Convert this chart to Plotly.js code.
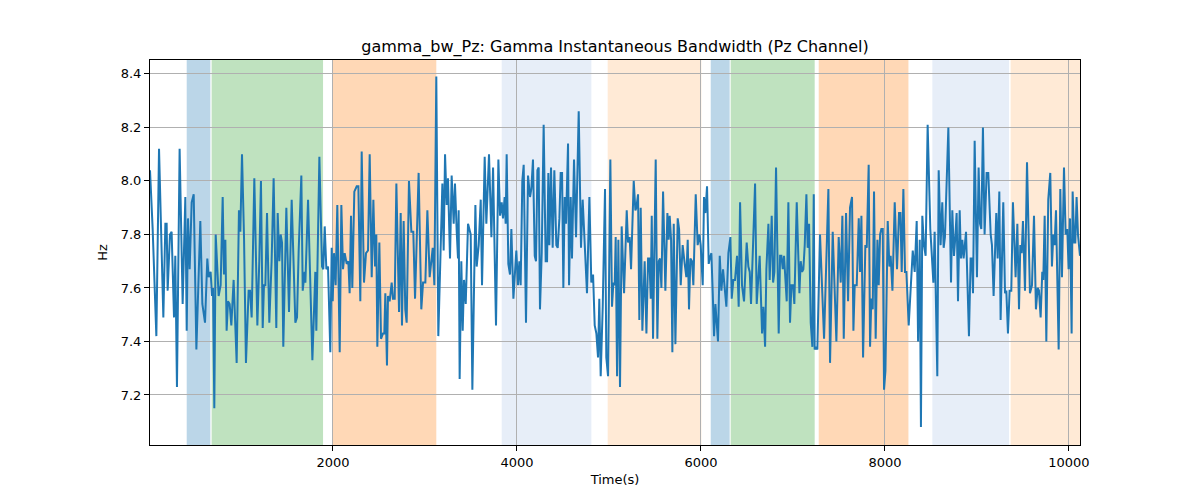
<!DOCTYPE html>
<html>
<head>
<meta charset="utf-8">
<script src="https://cdn.plot.ly/plotly-3.0.1.min.js"></script>
<style>
  html, body { margin: 0; padding: 0; background: #fff; }
  #plot { width: 1200px; height: 500px; }
</style>
</head>
<body>
<div id="plot"></div>
<script>
// time in seconds
var times = [
  11, 40, 80, 109, 156, 178, 192, 203, 228, 246, 272, 286, 304, 333, 366, 395, 410, 424, 442, 464,
  486, 515, 558, 580, 609, 634, 649, 670, 685, 696, 710, 725, 757, 779, 801, 815, 830, 844, 859, 877,
  895, 920, 953, 978, 993, 1011, 1033, 1054, 1083, 1098, 1116, 1145, 1178, 1199, 1217, 1236, 1250, 1265, 1283, 1308,
  1333, 1355, 1384, 1399, 1417, 1431, 1446, 1460, 1493, 1522, 1551, 1569, 1591, 1609, 1627,
  1656, 1671, 1692, 1700, 1729, 1750, 1776, 1808, 1819, 1852, 1881, 1895, 1910, 1928, 1946, 1971, 1986, 1997, 2011, 2029,
  2047, 2073, 2091, 2109, 2127, 2149, 2167, 2181, 2196, 2210, 2232, 2258, 2276, 2297, 2312, 2337, 2359, 2381, 2399, 2421,
  2439, 2457, 2471, 2482, 2504, 2522, 2544, 2558, 2569, 2587, 2598, 2616, 2638, 2652, 2671, 2689, 2718, 2736, 2750, 2768,
  2786, 2801, 2826, 2852, 2873, 2892, 2910, 2931, 2960, 2979, 3004, 3026, 3051, 3069, 3084, 3102, 3123, 3145, 3167, 3189,
  3203, 3218, 3236, 3250, 3272, 3290, 3312, 3326,
  3345, 3359, 3366, 3377, 3395, 3410, 3424, 3443, 3468, 3497, 3515, 3548, 3562, 3584, 3606, 3620, 3649, 3667, 3696, 3722,
  3740, 3772, 3798, 3816, 3834, 3848, 3866, 3877, 3888, 3906, 3924, 3939, 3961, 3993, 4011, 4026, 4040, 4058, 4073, 4098,
  4120, 4142, 4156, 4174, 4193, 4207, 4222, 4236, 4250, 4269, 4290, 4312, 4327, 4341, 4352, 4370, 4388, 4406, 4428, 4443,
  4461, 4475, 4490, 4504, 4519, 4533, 4555, 4566, 4584, 4598, 4620, 4642, 4671, 4696, 4714, 4736, 4761, 4787, 4808, 4827,
  4845, 4863, 4881, 4895, 4910, 4932, 4957, 4971, 4990,
  5015, 5033, 5048, 5062, 5073, 5088, 5102, 5120, 5138, 5164, 5193, 5207, 5225, 5240, 5269, 5287, 5298, 5316, 5330, 5345,
  5363, 5388, 5407, 5425, 5439, 5454, 5465, 5479, 5508, 5526, 5541, 5555, 5570, 5588, 5613, 5635, 5649, 5660, 5675, 5689,
  5704, 5722, 5747, 5762, 5780, 5801, 5823, 5841, 5856, 5870, 5885, 5903, 5917, 5943, 5964, 5983, 5997, 6019, 6033, 6048,
  6066, 6084, 6095, 6113, 6128, 6142, 6157, 6171, 6185, 6204, 6222, 6240, 6258, 6276, 6298, 6320, 6334, 6352, 6370, 6392,
  6410, 6425, 6446, 6468, 6497, 6515, 6530, 6544, 6566, 6588, 6606, 6624, 6638, 6664, 6678,
  6697, 6711, 6733, 6747, 6769, 6784, 6798, 6816, 6845, 6860, 6874, 6889, 6903, 6918, 6932, 6950, 6968, 6983, 7001, 7015,
  7041, 7070, 7084, 7099, 7113, 7128, 7146, 7160, 7175, 7193, 7211, 7226, 7236, 7251, 7265, 7294, 7316, 7338, 7385, 7403,
  7432, 7454, 7472, 7497, 7519, 7537, 7552, 7577, 7599, 7620, 7642, 7657, 7671, 7693, 7715, 7729, 7744, 7762, 7787, 7802,
  7823, 7838, 7852, 7867, 7881, 7899, 7918, 7932, 7947, 7961, 7976, 7990, 8005, 8030, 8048, 8062, 8081, 8106, 8131, 8153,
  8168, 8182, 8200, 8218, 8233, 8258, 8280, 8302, 8323, 8345, 8360, 8378,
  8391, 8406, 8424, 8442, 8464, 8493, 8526, 8540, 8569, 8584, 8605, 8623, 8638, 8652, 8689, 8718, 8732, 8750, 8765, 8779,
  8794, 8812, 8826, 8841, 8855, 8881, 8913, 8931, 8946, 8957, 8975, 9000, 9018, 9033, 9047, 9065, 9083, 9105, 9123, 9149,
  9163, 9181, 9210, 9225, 9243, 9257, 9286, 9305, 9319, 9337, 9355, 9373, 9391, 9420, 9439, 9457, 9471, 9486, 9500, 9522,
  9544, 9576, 9598, 9620, 9641, 9660, 9674, 9692, 9710, 9721, 9736, 9754, 9775, 9797, 9815, 9830, 9844, 9859, 9888, 9906,
  9924, 9946, 9964, 9982, 9996, 10011, 10029, 10040, 10058, 10069, 10083, 10098, 10120
];

var bandwidth = [
  8.04, 7.82, 7.42, 8.12, 7.49, 7.84, 7.84, 7.59, 7.80, 7.81, 7.49, 7.72, 7.23, 8.12, 7.54, 7.94, 7.44, 7.86, 7.67, 7.92,
  7.95, 7.37, 7.85, 7.54, 7.47, 7.71, 7.64, 7.66, 7.57, 7.60, 7.15, 7.80, 7.57, 7.61, 7.94, 7.65, 7.78, 7.44, 7.55, 7.54,
  7.46, 7.63, 7.32, 7.89, 7.81, 8.10, 7.79, 7.32, 7.59, 7.59, 7.49, 8.01, 7.46, 7.70, 8.00, 7.45, 7.61, 7.61, 7.88, 7.47,
  7.70, 8.01, 7.45, 7.88, 7.70, 7.80, 7.77, 7.38, 7.90, 7.51, 7.93, 7.74, 7.47, 7.49, 7.74,
  8.02, 7.59, 7.66, 7.62, 7.93, 7.67, 7.33, 7.66, 7.44, 8.09, 7.68, 7.67, 7.83, 7.67, 7.68, 7.36, 7.75, 7.55, 7.73, 7.61,
  7.91, 7.36, 7.91, 7.67, 7.73, 7.69, 7.70, 7.58, 7.87, 7.60, 7.96, 7.98, 7.98, 7.55, 8.11, 7.62, 7.73, 7.74, 8.10, 7.64,
  7.93, 7.68, 7.80, 7.38, 7.77, 7.41, 7.43, 7.43, 7.58, 7.31, 7.57, 7.55, 7.62, 7.56, 7.56, 7.99, 7.51, 7.88, 7.46, 7.85,
  7.52, 7.47, 8.00, 7.81, 7.81, 7.56, 7.80, 8.03, 7.52, 7.62, 7.62, 7.89, 7.64, 7.69, 7.75, 7.61, 8.39, 7.42, 7.73, 7.99,
  7.74, 8.10, 7.91, 8.01, 7.71, 8.02, 7.84, 7.99,
  7.81, 7.71, 7.89, 7.26, 7.70, 7.44, 7.63, 7.54, 7.84, 7.80, 7.22, 7.91, 7.68, 7.76, 7.93, 7.61, 8.09, 7.84, 8.10, 7.79,
  8.05, 7.46, 8.08, 7.87, 7.92, 7.86, 7.94, 7.84, 8.10, 7.69, 7.65, 7.82, 7.56, 7.74, 7.61, 7.70, 7.61, 8.00, 8.06, 7.47,
  8.02, 7.94, 7.97, 8.08, 7.72, 7.70, 8.04, 8.05, 7.52, 7.73, 8.21, 7.70, 7.70, 8.03, 7.76, 8.05, 7.75, 8.04, 7.76, 7.75,
  7.86, 8.03, 8.03, 7.60, 7.94, 7.84, 8.14, 7.61, 7.94, 7.71, 8.08, 7.79, 8.26, 7.75, 7.93, 7.78, 7.58, 7.94, 7.62, 7.65,
  7.46, 7.43, 7.34, 7.56, 7.27, 7.53, 7.97, 7.34, 7.27,
  8.08, 7.53, 7.62, 7.61, 7.79, 7.27, 7.78, 7.23, 7.83, 7.58, 7.89, 7.77, 7.79, 7.67, 8.00, 7.89, 7.90, 7.95, 7.48, 7.90,
  7.44, 7.70, 7.43, 7.71, 7.71, 7.56, 7.87, 7.41, 8.08, 7.41, 7.70, 7.71, 7.60, 7.96, 7.59, 7.88, 7.78, 7.87, 7.78, 7.36,
  7.84, 7.39, 7.86, 7.82, 7.61, 7.76, 7.69, 7.64, 7.78, 7.52, 7.71, 7.70, 7.61, 7.95, 7.76, 7.80, 7.76, 7.61, 7.94, 7.88,
  7.98, 7.69, 7.71, 7.73, 7.58, 7.42, 7.54, 7.46, 7.40, 7.72, 7.59, 7.67, 7.61, 7.53, 7.73, 7.79, 7.56, 7.63, 7.63, 7.72,
  7.53, 7.92, 7.61, 7.55, 7.77, 7.68, 7.66, 7.54, 7.76, 7.99, 7.54, 7.67, 7.72, 7.43, 7.53,
  7.38, 7.67, 7.84, 7.63, 7.87, 7.62, 7.66, 8.05, 7.43, 7.72, 7.72, 7.67, 7.72, 7.64, 7.55, 7.92, 7.47, 7.61, 7.61, 7.54,
  7.92, 7.58, 7.70, 7.66, 7.67, 7.76, 7.95, 7.75, 7.84, 7.47, 7.38, 7.95, 7.37, 7.38, 7.37, 7.80, 7.61, 7.41, 7.97, 7.32,
  7.81, 7.54, 7.40, 7.79, 7.62, 7.87, 7.41, 7.88, 7.55, 7.90, 7.94, 7.44, 7.61, 7.61, 7.86, 7.66, 7.87, 7.34, 7.76, 7.75,
  8.06, 7.38, 7.56, 7.52, 7.96, 7.41, 7.78, 7.61, 7.80, 7.82, 7.82, 7.22, 7.29, 7.85, 7.68, 7.72, 7.59, 7.92, 7.67, 7.88,
  7.88, 7.66, 7.97, 7.66, 7.66, 7.46, 7.62, 7.74, 7.66, 7.85, 7.40, 7.78,
  7.08, 7.87, 7.76, 7.72, 8.21, 7.82, 7.62, 7.81, 7.27, 8.04, 7.76, 7.92, 7.75, 7.79, 8.20, 7.62, 7.89, 7.72, 7.79, 7.88,
  7.55, 7.89, 7.71, 7.78, 7.71, 7.81, 7.42, 7.71, 7.71, 7.58, 8.15, 7.64, 8.05, 7.84, 7.82, 8.20, 7.80, 8.03, 8.03, 7.80,
  7.76, 7.57, 7.88, 7.71, 7.96, 7.48, 7.92, 7.58, 7.59, 7.43, 7.59, 7.59, 7.92, 7.64, 7.84, 7.52, 7.76, 7.73, 7.85, 7.59,
  8.07, 7.58, 7.61, 7.87, 7.52, 7.60, 7.59, 7.49, 7.66, 7.63, 7.87, 7.40, 7.93, 8.03, 7.68, 7.80, 7.76, 7.89, 7.37, 7.97,
  7.64, 8.05, 7.80, 7.82, 7.67, 7.86, 7.43, 7.96, 7.77, 7.77, 7.94, 7.80, 7.72
];

// shaded segments
var bandStart = [410, 681, 2000, 3834, 4986, 6106, 6323, 7280, 8515, 9366];
var bandEnd   = [667, 1892, 3123, 4809, 6004, 6312, 7236, 8255, 9348, 10130];
var bandColor = [
  'rgba(31,119,180,0.3)', 'rgba(44,160,44,0.3)', 'rgba(255,127,14,0.3)',
  'rgba(174,199,232,0.3)', 'rgba(255,187,120,0.3)',
  'rgba(31,119,180,0.3)', 'rgba(44,160,44,0.3)', 'rgba(255,127,14,0.3)',
  'rgba(174,199,232,0.3)', 'rgba(255,187,120,0.3)'
];

var shapes = [];
for (var i = 0; i < bandStart.length; i++) {
  shapes.push({
    type: 'rect', xref: 'x', yref: 'paper',
    x0: bandStart[i], x1: bandEnd[i], y0: 0, y1: 1,
    fillcolor: bandColor[i], line: {width: 0}, layer: 'below'
  });
}

var data = [{
  type: 'scatter', mode: 'lines',
  x: times, y: bandwidth,
  line: {color: '#1f77b4', width: 2},
  hoverinfo: 'skip'
}];

var axisStyle = {
  showline: true, linecolor: '#000', linewidth: 1, mirror: true,
  ticks: 'outside', ticklen: 5, tickwidth: 1, tickcolor: '#000',
  showgrid: true, gridcolor: '#b0b0b0', gridwidth: 1,
  zeroline: false,
  tickfont: {family: 'DejaVu Sans', size: 13, color: '#000'}
};

var layout = {
  width: 1200, height: 500,
  margin: {l: 150, r: 120, t: 60, b: 55},
  paper_bgcolor: '#fff', plot_bgcolor: 'rgba(0,0,0,0)',
  showlegend: false,
  font: {family: 'DejaVu Sans', color: '#000'},
  title: {
    text: 'gamma_bw_Pz: Gamma Instantaneous Bandwidth (Pz Channel)',
    font: {family: 'DejaVu Sans', size: 16, color: '#000'},
    x: 0.5, xref: 'paper', xanchor: 'center',
    y: 0.908, yref: 'container', yanchor: 'middle'
  },
  xaxis: Object.assign({}, axisStyle, {
    range: [times[0], times[times.length - 1]],
    tickvals: [2000, 4000, 6000, 8000, 10000],
    tickformat: 'd',
    title: {text: 'Time(s)', font: {family: 'DejaVu Sans', size: 13, color: '#000'}, standoff: 6}
  }),
  yaxis: Object.assign({}, axisStyle, {
    range: [7.013, 8.452],
    tickvals: [7.2, 7.4, 7.6, 7.8, 8.0, 8.2, 8.4],
    tickformat: '.1f',
    title: {text: 'Hz', font: {family: 'DejaVu Sans', size: 13, color: '#000'}, standoff: 10}
  }),
  shapes: shapes
};

Plotly.newPlot('plot', data, layout, {displayModeBar: false, staticPlot: true});
</script>
</body>
</html>
